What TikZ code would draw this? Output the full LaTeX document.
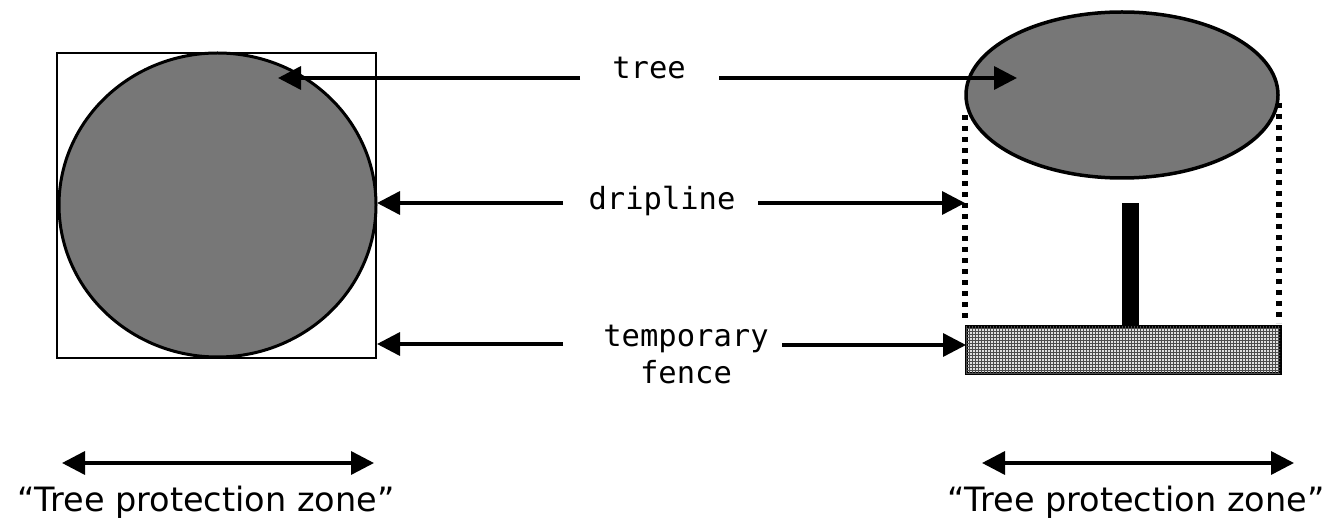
\documentclass[tikz,border=0pt]{standalone}
\usepackage{fontspec}
\setmainfont{DejaVu Sans}
\newfontfamily\monof{DejaVu Sans Mono}
\usetikzlibrary{arrows.meta,patterns,shapes.geometric}
\definecolor{treegray}{RGB}{119,119,119}
\begin{document}
\begin{tikzpicture}[x=1pt,y=-1pt,
  tipk/.tip={Triangle[length=23pt,width=23pt]},
  ptr/.style={line width=3.5pt,-tipk},
  both/.style={line width=3.5pt,tipk-tipk},
  lbl/.style={font=\monof\fontsize{30.5}{37}\selectfont, inner sep=0pt, anchor=base},
  zone/.style={font=\fontsize{33.5}{40}\selectfont, inner sep=0pt, anchor=base},
  crown/.style={ellipse, draw=black, fill=treegray, line width=3pt, inner sep=0pt},
  dripdots/.style={line width=5.5pt, dash pattern=on 5.5pt off 5.5pt}]
\useasboundingbox (0,0) rectangle (1339,529);

% ---- left: plan view ----
\node[draw, line width=2.5pt, inner sep=0pt, minimum width=319pt, minimum height=305pt] (sq) at (216.5,205.5) {};
\node[crown, minimum width=317pt, minimum height=304pt] (crownL) at (217.5,205) {};

% ---- right: elevation view ----
\draw[dripdots] (965,115) coordinate (dlt) -- (965,323) coordinate (dlb);
\draw[dripdots] (1279,103) coordinate (drt) -- (1279,323) coordinate (drb);
\node[crown, line width=3.5pt, minimum width=312pt, minimum height=166pt] (crownR) at (1122,95) {};
\fill (1122,203) rectangle (1139,328);
\node[draw, line width=3pt, inner sep=0pt, minimum width=314pt, minimum height=46pt,
      fill=black!12, postaction={pattern=grid, pattern color=black!70}] (fence) at (1123,350) {};

% ---- labels ----
\node[lbl] (tree) at (649,79) {tree};
\node[lbl] (drip) at (662,210) {dripline};
\node[lbl] (tfence) at (686,346) {\begin{tabular}[t]{@{}c@{}}temporary\\fence\end{tabular}};

% ---- pointer arrows ----
\coordinate (treeA) at (580,78);   \coordinate (treeB) at (719,78);
\coordinate (dripA) at (563,203);  \coordinate (dripB) at (758,203);
\coordinate (fenA)  at (563,344);  \coordinate (fenB)  at (782,345);
\coordinate (treeTipL) at (278,78);  \coordinate (treeTipR) at (1017,78);
\coordinate (dripTipL) at (377,203); \coordinate (dripTipR) at (965,203);
\coordinate (fenTipL)  at (377,344); \coordinate (fenTipR)  at (966,345);

\draw[ptr] (treeA) -- (treeTipL);
\draw[ptr] (treeB) -- (treeTipR);
\draw[ptr] (dripA) -- (dripTipL);
\draw[ptr] (dripB) -- (dripTipR);
\draw[ptr] (fenA) -- (fenTipL);
\draw[ptr] (fenB) -- (fenTipR);

% ---- tree protection zones ----
\coordinate (zl1) at (62,463);  \coordinate (zl2) at (374,463);
\coordinate (zr1) at (982,463); \coordinate (zr2) at (1294,463);
\draw[both] (zl1) -- (zl2);
\draw[both] (zr1) -- (zr2);
\node[zone] (zoneL) at (206,511) {“Tree protection zone”};
\node[zone] (zoneR) at (1136,511) {“Tree protection zone”};
\end{tikzpicture}
\end{document}
